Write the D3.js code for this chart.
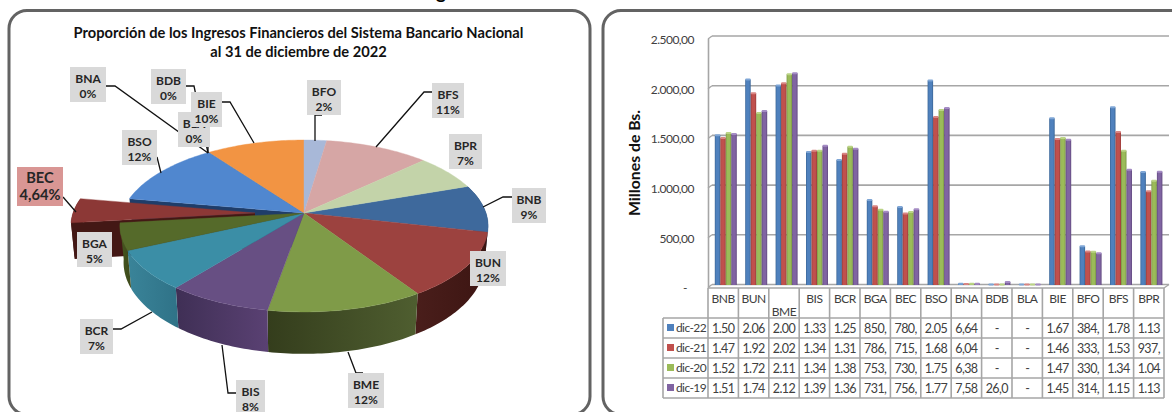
<!DOCTYPE html>
<html>
<head>
<meta charset="utf-8">
<script src="https://cdn.jsdelivr.net/npm/d3@7"></script>
<style>
  html, body { margin: 0; padding: 0; background: #fff; overflow: hidden; }
  svg { display: block; }
  text { font-family: Lato, "Open Sans", sans-serif; }
</style>
</head>
<body>
<div id="chart"></div>
<script>
// Datos
const bancos = ['BNB','BUN','BME','BIS','BCR','BGA','BEC','BSO','BNA','BDB','BLA','BIE','BFO','BFS','BPR'];
const dic22 = [1502,2062,2003,1333,1252,850,780,2052,6.64,0,0,1672,384,1782,1132];
const dic21 = [1475,1925,2025,1345,1315,786,715,1685,6.04,0,0,1465,333,1535,937];
const dic20 = [1525,1725,2115,1345,1385,753,730,1755,6.38,0,0,1475,330,1345,1045];
const dic19 = [1515,1745,2125,1395,1365,731,756,1775,7.58,26.04,0,1455,314,1155,1135];
const serieNombres = ['dic-22','dic-21','dic-20','dic-19'];
const yTicks = [0,500,1000,1500,2000,2500];
const tituloPie = ['Proporción de los Ingresos Financieros del Sistema Bancario Nacional','al 31 de diciembre de 2022'];

const series = [dic22, dic21, dic20, dic19];
const serieColor = ['#4F81BD','#C0504D','#9BBB59','#8064A2'];
const serieOscuro = ['#3A6596','#9A3C3A','#7A9644','#61497F'];
const serieClaro = ['#7FA6D6','#D98583','#BBD486','#A48BC4'];

const topColor = {BNB:'#3E699C',BUN:'#9C423F',BME:'#7F9B48',BIS:'#674F83',BCR:'#3B8EA6',BGA:'#556A2A',BEC:'#8C3836',
  BSO:'#5087CF',BNA:'#4a7ebb',BDB:'#be4b48',BLA:'#98b954',BIE:'#F29443',BFO:'#A8B8D8',BFS:'#D6A6A5',BPR:'#C3D3A9'};
const sideColor = {BNB:['#24405F','#24405F'],BUN:['#3C1512','#4A1E1B'],BME:['#4F5E30','#343D1C'],BIS:['#5A4173','#3F2F55'],
  BCR:['#2F7287','#3A8499'],BGA:['#3D4A1C','#46561F'],BEC:['#431815','#431815'],BSO:['#1F3D69','#1F3D69']};

const width = 1172;
const height = 412;
const svg = d3.select('#chart').append('svg')
  .attr('width', width)
  .attr('height', height);
const defs = svg.append('defs');

svg.append('text').text('g')
  .attr('x', 441).attr('y', -1)
  .attr('text-anchor', 'middle').attr('font-size', 19).attr('font-weight', 700).attr('fill', '#000');

// Marcos
[[9,581],[603,720]].forEach(p => {
  svg.append('rect')
    .attr('x', p[0]).attr('y', 10.5)
    .attr('width', p[1]).attr('height', 404)
    .attr('rx', 18)
    .attr('fill', '#fff')
    .attr('stroke', '#636363')
    .attr('stroke-width', 3);
});

// ---- Torta ----
tituloPie.forEach((t, i) => {
  svg.append('text').text(t)
    .attr('x', 298.5).attr('y', 37.5 + i * 19.5)
    .attr('text-anchor', 'middle')
    .attr('font-size', 14.67).attr('font-weight', 700).attr('fill', '#111');
});

const total = d3.sum(dic22);
const inicio = 2 * Math.PI * d3.sum(dic22.slice(12)) / total; // BFO queda arriba
const pie = d3.pie().sort(null).startAngle(inicio).endAngle(inicio + 2 * Math.PI);
const arcos = pie(dic22).map((d, i) => ({ ...d, cat: bancos[i] }));

// perspectiva del plano de la torta
const cx = 304, cy = 213, k = 0.151, A = 84, B = 182, prof = 35.6;
function proj(t, r, dx, abajo) {
  const u = r * Math.sin(t), v = -r * Math.cos(t), s = 1 / (1 - k * v);
  const enc = abajo ? 0.98 : 1;
  return [cx + dx + B * u * s * enc, cy + A * v * s + (abajo ? prof * s : 0)];
}
function borde(a, dx, abajo) {
  const n = Math.max(2, Math.ceil((a.endAngle - a.startAngle) / 0.02));
  return d3.range(n + 1).map(i => proj(a.startAngle + (a.endAngle - a.startAngle) * i / n, 1, dx, abajo));
}
const linea = d3.line();
function gradiente(id, c) {
  const g = defs.append('linearGradient').attr('id', id).attr('x1', 0).attr('x2', 1).attr('y1', 0).attr('y2', 0);
  g.append('stop').attr('offset', '0%').attr('stop-color', c[1]);
  g.append('stop').attr('offset', '100%').attr('stop-color', c[0]);
}
function lado(a, dx) {
  gradiente('lado' + a.cat, sideColor[a.cat]);
  const pts = borde(a, dx, false).concat(borde(a, dx, true).reverse());
  svg.append('path').attr('d', linea(pts) + 'Z').attr('fill', 'url(#lado' + a.cat + ')');
}
function tapa(a, dx) {
  const pts = [[cx + dx, cy]].concat(borde(a, dx, false));
  svg.append('path').attr('d', linea(pts) + 'Z')
    .attr('fill', topColor[a.cat])
    .attr('stroke', topColor[a.cat]).attr('stroke-width', 0.4);
}
function corte(t, dx, color) {
  const p = proj(t, 1, dx, false), q = proj(t, 1, dx, true);
  svg.append('path').attr('d', linea([[cx + dx, cy], p, q, [cx + dx, cy + prof]]) + 'Z').attr('fill', color);
}

const bec = arcos.find(a => a.cat === 'BEC');
const bso = arcos.find(a => a.cat === 'BSO');
const resto = arcos.filter(a => a.cat !== 'BEC' && a.value > 0);
const salida = -49;

corte(bso.startAngle, 0, sideColor.BSO[0]);
corte(bec.startAngle, salida, sideColor.BEC[0]);
lado(bec, salida);
tapa(bec, salida);
// solo se ve el costado de las porciones de adelante
resto.filter(a => Math.cos((a.startAngle + a.endAngle) / 2) < 0.1).forEach(a => lado(a, 0));
resto.forEach(a => tapa(a, 0));

// Etiquetas de la torta, con sus lineas guia
const etiquetas = [
  { cat:'BNA', x:70,  y:67,  w:36, g:[[106,86],[115,86],[208,153]] },
  { cat:'BDB', x:151, y:69,  w:35, g:[[186,86],[194,86],[208,153]] },
  { cat:'BLA', x:178, y:112, w:32, g:[[208,147],[208,153]] },
  { cat:'BIE', x:191, y:92,  w:31, g:[[222,102],[230,102],[254,143]] },
  { cat:'BSO', x:122, y:130, w:35, g:[[157,157],[161,173]] },
  { cat:'BEC', x:17,  y:167, w:46, g:[[63,197],[76,212]] },
  { cat:'BFO', x:307, y:80,  w:34, g:[[322,115],[315,115],[315,141]] },
  { cat:'BFS', x:432, y:83,  w:32, g:[[432,92],[424,92],[376,147]] },
  { cat:'BPR', x:449, y:134, w:33, g:[] },
  { cat:'BNB', x:512, y:188, w:34, g:[[512,197],[503,197],[483,207]] },
  { cat:'BUN', x:470, y:251, w:36, g:[] },
  { cat:'BME', x:348, y:373, w:36, g:[[363,373],[356,373],[348,352]] },
  { cat:'BIS', x:236, y:380, w:29, g:[[236,393],[228,393],[222,345]] },
  { cat:'BCR', x:80,  y:319, w:33, g:[[113,329],[121,329],[152,312]] },
  { cat:'BGA', x:77,  y:232, w:35, g:[] }
];
const fmtPct = d3.formatLocale({ decimal: ',', thousands: '.', grouping: [3], currency: ['', ''], percent: '%' });
etiquetas.forEach(e => {
  if (e.g.length) {
    svg.append('path').attr('d', linea(e.g))
      .attr('fill', 'none').attr('stroke', '#111').attr('stroke-width', 1.3);
  }
});
etiquetas.forEach(e => {
  const esBec = e.cat === 'BEC';
  const a = arcos.find(d => d.cat === e.cat);
  const pct = fmtPct.format(esBec ? '.2%' : '.0%')(a.value / total);
  svg.append('rect')
    .attr('x', e.x).attr('y', e.y)
    .attr('width', e.w).attr('height', esBec ? 39 : 35)
    .attr('fill', esBec ? '#D99694' : '#D9D9D9');
  const mx = e.x + e.w / 2;
  svg.append('text').text(e.cat)
    .attr('x', mx).attr('y', e.y + 16)
    .attr('text-anchor', 'middle')
    .attr('font-size', esBec ? 14.67 : 12).attr('font-weight', 700).attr('fill', '#262626');
  svg.append('text').text(pct)
    .attr('x', mx).attr('y', e.y + (esBec ? 33 : 31))
    .attr('text-anchor', 'middle')
    .attr('font-size', esBec ? 14.67 : 12).attr('font-weight', 700).attr('fill', '#262626');
});

// ---- Barras ----
const gris = '#A6A6A6';
const x = d3.scaleBand().domain(bancos).range([708, 1164]);
const xSerie = d3.scaleBand().domain(serieNombres).range([6.8, 28.8]);
const y = d3.scaleLinear().domain([0, 2500]).range([284.5, 36]);
const piso = 285;

yTicks.forEach(t => {
  svg.append('line')
    .attr('x1', 712).attr('x2', 1169)
    .attr('y1', y(t)).attr('y2', y(t))
    .attr('stroke', gris).attr('stroke-width', 1.6);
  svg.append('line')
    .attr('x1', 708).attr('x2', 712)
    .attr('y1', y(t) + 3).attr('y2', y(t))
    .attr('stroke', gris).attr('stroke-width', 1.3);
});
svg.append('line')
  .attr('x1', 708.5).attr('x2', 708.5).attr('y1', y(2500) + 3).attr('y2', 288)
  .attr('stroke', gris).attr('stroke-width', 1.6);
svg.append('line')
  .attr('x1', 1164).attr('x2', 1169).attr('y1', 288).attr('y2', y(0))
  .attr('stroke', gris).attr('stroke-width', 1.3);

const fmtY = d3.formatLocale({ decimal: ',', thousands: '.', grouping: [3], currency: ['', ''] }).format(',.2f');
const yAxis = d3.axisLeft(y)
  .tickValues(yTicks)
  .tickSize(0)
  .tickPadding(14)
  .tickFormat(d => d === 0 ? '-' : fmtY(d));
const gy = svg.append('g').attr('transform', 'translate(708,3.5)').call(yAxis);
gy.select('.domain').remove();
gy.selectAll('text').attr('font-size', 12).attr('fill', '#404040')
  .attr('letter-spacing', -0.5)
  .style('font-family', 'Lato, sans-serif');
gy.selectAll('.tick').filter(d => d === 0).select('text').attr('dx', -7);

svg.append('text').text('Millones de Bs.')
  .attr('transform', 'translate(639.5,163) rotate(-90)')
  .attr('text-anchor', 'middle')
  .attr('font-size', 15.8).attr('font-weight', 700).attr('fill', '#111');

series.forEach((vals, s) => {
  const g = defs.append('linearGradient').attr('id', 'barra' + s).attr('x1', 0).attr('x2', 1).attr('y1', 0).attr('y2', 0);
  g.append('stop').attr('offset', '0%').attr('stop-color', serieOscuro[s]);
  g.append('stop').attr('offset', '25%').attr('stop-color', serieColor[s]);
  g.append('stop').attr('offset', '70%').attr('stop-color', serieColor[s]);
  g.append('stop').attr('offset', '100%').attr('stop-color', serieOscuro[s]);

  svg.append('g').selectAll('rect')
    .data(vals)
    .enter()
    .append('rect')
    .attr('x', (d, i) => x(bancos[i]) + xSerie(serieNombres[s]))
    .attr('y', d => y(d))
    .attr('width', xSerie.bandwidth())
    .attr('height', d => Math.max(0, piso - y(d)))
    .attr('fill', 'url(#barra' + s + ')');

  svg.append('g').selectAll('rect')
    .data(vals)
    .enter()
    .append('rect')
    .attr('x', (d, i) => x(bancos[i]) + xSerie(serieNombres[s]))
    .attr('y', d => y(d) - 1)
    .attr('width', xSerie.bandwidth())
    .attr('height', 2)
    .attr('rx', 1)
    .attr('fill', serieClaro[s]);
});

// Tabla de datos
const filaY = [318, 338, 358, 378, 398];
const xIni = 663, xFin = 1164, tablaTop = 288;
const lineaTabla = (x1, y1, x2, y2) => svg.append('line')
  .attr('x1', x1).attr('y1', y1).attr('x2', x2).attr('y2', y2)
  .attr('stroke', gris).attr('stroke-width', 1.6);

lineaTabla(708, tablaTop, xFin, tablaTop);
filaY.forEach(f => lineaTabla(xIni, f, xFin, f));
bancos.forEach(b => lineaTabla(x(b), tablaTop, x(b), 398));
lineaTabla(xFin, tablaTop, xFin, 398);
lineaTabla(xIni, 318, xIni, 398);

bancos.forEach(b => {
  svg.append('text').text(b)
    .attr('x', x(b) + x.bandwidth() / 2)
    .attr('y', b === 'BME' ? 316 : 303)
    .attr('text-anchor', 'middle')
    .attr('letter-spacing', -0.5)
    .attr('font-size', 12).attr('fill', '#404040');
});

const fmtCelda = d3.formatLocale({ decimal: ',', thousands: '.', grouping: [3], currency: ['', ''] }).format(',.2f');
series.forEach((vals, s) => {
  const yc = (filaY[s] + filaY[s + 1]) / 2;
  svg.append('rect')
    .attr('x', 667).attr('y', yc - 4)
    .attr('width', 7).attr('height', 7)
    .attr('fill', serieColor[s]);
  svg.append('text').text(serieNombres[s])
    .attr('x', 676).attr('y', yc + 3.5)
    .attr('letter-spacing', -0.6)
    .attr('font-size', 12).attr('fill', '#404040');
  svg.append('g').selectAll('text')
    .data(vals)
    .enter()
    .append('text')
    .text(d => d === 0 ? '-' : fmtCelda(d).slice(0, 4)) // la celda corta el numero
    .attr('x', (d, i) => x(bancos[i]) + x.bandwidth() / 2)
    .attr('y', yc + 4.5)
    .attr('text-anchor', 'middle')
    .attr('letter-spacing', -0.6)
    .attr('font-size', 12.5).attr('fill', '#404040');
});
</script>
</body>
</html>
